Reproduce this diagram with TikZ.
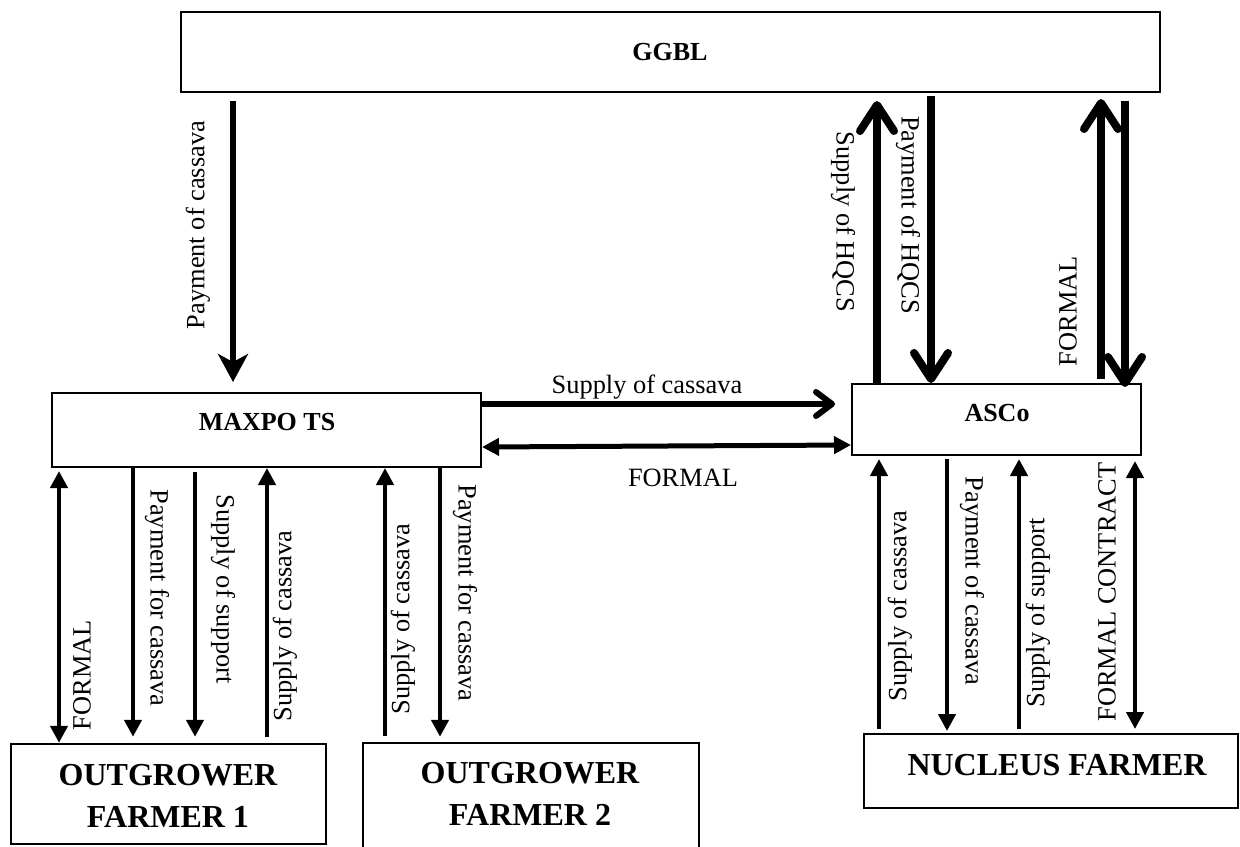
\documentclass[tikz,border=0pt]{standalone}
\usepackage{fontspec}
\setmainfont{Liberation Serif}
\usetikzlibrary{arrows.meta}
\begin{document}
\begin{tikzpicture}[x=0.5pt,y=-0.5pt,
  box/.style={draw, line width=1pt, inner sep=0pt},
  lbl/.style={inner sep=0pt, font=\fontsize{13.2}{15}\selectfont},
  btxt/.style={inner sep=0pt, font=\fontsize{13}{15}\selectfont\bfseries},
  bigtxt/.style={inner sep=0pt, align=center, font=\fontsize{16}{21}\selectfont\bfseries},
  thinarr/.style={line width=2.2pt, -{Triangle[length=8.5pt,width=8.5pt]}},
  thinboth/.style={line width=2.2pt, {Triangle[length=8.5pt,width=8.5pt]}-{Triangle[length=8.5pt,width=8.5pt]}},
  heavyarr/.style={line width=4pt, -{Straight Barb[length=13pt,width=17pt,line cap=round,line join=round]}},
  stealtharr/.style={line width=3.4pt, -{Stealth[length=14pt,width=15pt,inset=4pt]}},
  medarr/.style={line width=3pt, -{Straight Barb[length=8pt,width=12pt,line cap=round,line join=round]}},
]
\useasboundingbox (0,0) rectangle (1240,846);

% boxes
\node[box, minimum width=489.5pt, minimum height=40pt] (ggbl) at (670.5,52) {};
\node[box, minimum width=214.5pt, minimum height=37pt] (maxpo) at (266.5,430) {};
\node[box, minimum width=144.5pt, minimum height=35.5pt] (asco) at (996.5,419.5) {};
\node[box, minimum width=187pt, minimum height=37pt] (nuc) at (1051,771) {};
\node[box, line width=1.2pt, minimum width=157.5pt, minimum height=50pt] (of1) at (168.5,794) {};
\node[box, line width=1.2pt, minimum width=168pt, minimum height=53.5pt] (of2) at (531,796.5) {};

% box texts
\node[btxt] (tggbl) at (670,52) {GGBL};
\node[btxt] (tmaxpo) at (267,422) {MAXPO TS};
\node[btxt] (tasco) at (997,413) {ASCo};
\node[bigtxt] (tof1) at (168,796) {OUTGROWER\\FARMER 1};
\node[bigtxt] (tof2) at (530,794) {OUTGROWER\\FARMER 2};
\node[bigtxt] (tnuc) at (1057,765) {NUCLEUS FARMER};

% GGBL <-> MAXPO / ASCo
\draw[stealtharr, shorten <=4pt, shorten >=5pt] (233,0 |- ggbl.south) -- (233,0 |- maxpo.north);
\draw[heavyarr, shorten >=4pt] (877,0 |- asco.north) -- (877,0 |- ggbl.south);
\draw[heavyarr, shorten <=1.5pt] (931,0 |- ggbl.south) -- (931,0 |- asco.north);
\draw[heavyarr, shorten <=2pt, shorten >=3pt] (1101,0 |- asco.north) -- (1101,0 |- ggbl.south);
\draw[heavyarr, shorten <=4pt, shorten >=-2pt] (1125,0 |- ggbl.south) -- (1125,0 |- asco.north);

% MAXPO <-> ASCo
\draw[medarr, shorten >=8pt] (maxpo.east |- 0,404) -- (asco.west |- 0,404);
\draw[thinboth, line width=2.5pt] (maxpo.east |- 0,447) -- (asco.west |- 0,445);

% MAXPO <-> outgrowers
\draw[thinboth, shorten <=1.5pt] (59,0 |- maxpo.south) -- (59,0 |- of1.north);
\draw[thinarr, shorten >=3pt] (133,0 |- maxpo.south) -- (133,0 |- of1.north);
\draw[thinarr, shorten <=2pt, shorten >=3pt] (195,0 |- maxpo.south) -- (195,0 |- of1.north);
\draw[thinarr, shorten <=3pt] (267,0 |- of1.north) -- (267,0 |- maxpo.south);
\draw[thinarr, shorten <=3pt] (385,0 |- of2.north) -- (385,0 |- maxpo.south);
\draw[thinarr, shorten >=2.5pt] (440,0 |- maxpo.south) -- (440,0 |- of2.north);

% ASCo <-> nucleus
\draw[thinarr, shorten <=2pt, shorten >=1.5pt] (879,0 |- nuc.north) -- (879,0 |- asco.south);
\draw[thinarr, shorten <=1.5pt, shorten >=1pt] (947,0 |- asco.south) -- (947,0 |- nuc.north);
\draw[thinarr, shorten <=2pt, shorten >=1.5pt] (1019,0 |- nuc.north) -- (1019,0 |- asco.south);
\draw[thinboth, shorten <=2.5pt, shorten >=2pt] (1135,0 |- asco.south) -- (1135,0 |- nuc.north);

% labels
\node[lbl, rotate=90] (t1) at (198,225) {Payment of cassava};
\node[lbl, rotate=-90] (t2) at (843,222) {Supply of HQCS};
\node[lbl, rotate=-90] (t3) at (908,215) {Payment of HQCS};
\node[lbl, rotate=90] (t4) at (1068,311) {FORMAL};
\node[lbl] (h1) at (647,387) {Supply of cassava};
\node[lbl] (h2) at (683,478) {FORMAL};

\node[lbl, rotate=90] (l1) at (82,675) {FORMAL};
\node[lbl, rotate=-90] (l2) at (157,598) {Payment for cassava};
\node[lbl, rotate=-90] (l3) at (223,589) {Supply of support};
\node[lbl, rotate=90] (l4) at (285,626) {Supply of cassava};
\node[lbl, rotate=90] (l5) at (403,619) {Supply of cassava};
\node[lbl, rotate=-90] (l6) at (465,593) {Payment for cassava};

\node[lbl, rotate=90] (r1) at (900,606) {Supply of cassava};
\node[lbl, rotate=-90] (r2) at (972,581) {Payment of cassava};
\node[lbl, rotate=90] (r3) at (1038,613) {Supply of support};
\node[lbl, rotate=90] (r4) at (1107,592) {FORMAL CONTRACT};
\end{tikzpicture}
\end{document}
